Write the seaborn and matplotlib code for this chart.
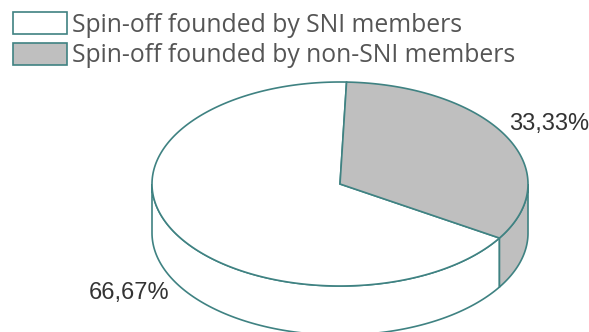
import numpy as np
import matplotlib
matplotlib.use("Agg")
import matplotlib.pyplot as plt
from matplotlib.patches import Polygon, Patch
import seaborn as sns

# Data
categories = ["Spin-off founded by SNI members", "Spin-off founded by non-SNI members"]
shares = [66.67, 33.33]
labels = ["66,67%", "33,33%"]
colors = ["#ffffff", "#bfbfbf"]
edge = "#3f8282"

sns.set_theme(style="white")
plt.rcParams["font.family"] = ["Open Sans", "DejaVu Sans"]

W, H = 589, 332
fig = plt.figure(figsize=(W / 100, H / 100), dpi=100)
ax = fig.add_axes([0, 0, 1, 1])
ax.set_xlim(0, W)
ax.set_ylim(H, 0)
ax.axis("off")

# Pie geometry (pixel space, y down)
cx, cy, a, b, depth = 340, 184, 188, 102, 49


def pt(t, dy=0.0):
    r = np.radians(t)
    return cx + a * np.cos(r), cy - b * np.sin(r) + dy


# Non-SNI slice runs clockwise from just right of the top; SNI takes the rest
start = 88.0
spans = [s / sum(shares) * 360.0 for s in shares]
t_lo = start - spans[1]
slice_ranges = [(start, t_lo + 360.0), (t_lo, start)]

# Side walls (front half: angles 180..360)
for (t0, t1), col in zip(slice_ranges, colors):
    for off in (-360, 0, 360):
        lo = max(t0 + off, 180)
        hi = min(t1 + off, 360)
        if hi > lo:
            ts = np.linspace(lo, hi, 120)
            top = [pt(t) for t in ts]
            bot = [pt(t, depth) for t in ts[::-1]]
            ax.add_patch(Polygon(top + bot, closed=True, facecolor=col,
                                 edgecolor=edge, linewidth=1.2, zorder=2))

# Top faces
for (t0, t1), col in zip(slice_ranges, colors):
    ts = np.linspace(t0, t1, 240)
    verts = [(cx, cy)] + [pt(t) for t in ts]
    ax.add_patch(Polygon(verts, closed=True, facecolor=col,
                         edgecolor=edge, linewidth=1.2, zorder=3))

# Percentage labels
lab_font = ["Liberation Sans", "DejaVu Sans"]
ax.text(129, 293, labels[0], ha="center", va="center", fontsize=17,
        color="#333333", family=lab_font)
ax.text(549, 124, labels[1], ha="center", va="center", fontsize=17,
        color="#333333", family=lab_font)

# Legend
handles = [Patch(facecolor=c, edgecolor=edge, linewidth=1.2) for c in colors]
fig.legend(handles, categories, loc="upper left",
           bbox_to_anchor=(13 / W, 1 - 12 / H), frameon=False,
           fontsize=17.8, labelcolor="#555555", borderpad=0, borderaxespad=0,
           handlelength=2.2, handleheight=1.0, handletextpad=0.2,
           labelspacing=0.22)

fig.savefig("out.png", dpi=100)
